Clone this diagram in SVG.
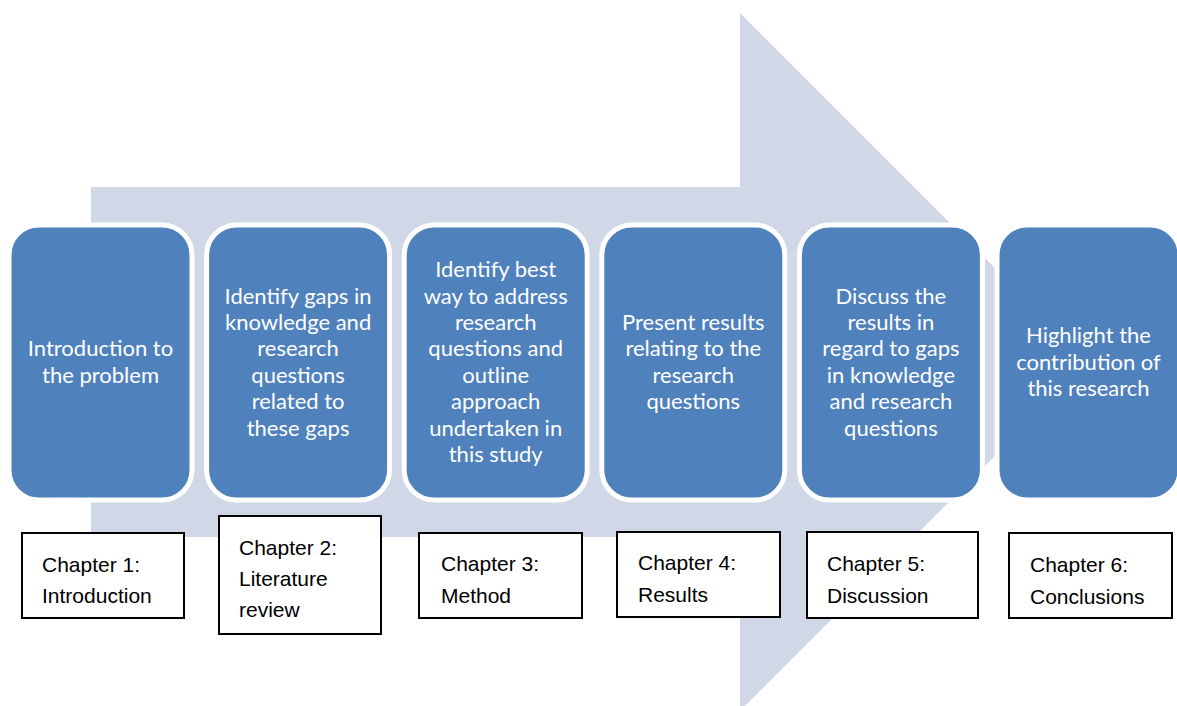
<svg xmlns="http://www.w3.org/2000/svg" width="1177" height="706" viewBox="0 0 1177 706">
<style>
.step{fill:#4F81BD;stroke:#FFFFFF;stroke-width:5}
.st{font-family:Lato,"Open Sans","Liberation Sans",sans-serif;font-size:22px;fill:#FFFFFF;text-anchor:middle}
.ch{fill:#FFFFFF;stroke:#000000;stroke-width:2}
.ct{font-family:"Liberation Sans",Arial,sans-serif;font-size:21px;fill:#000000}
</style>
<rect x="0" y="0" width="1177" height="706" fill="#FFFFFF"/>
<g id="arrow">
<polygon points="91,187 740,187 740,13 1089,362 740,711 740,537 91,537" fill="#D0D8E8"/>
</g>
<g id="connectors"></g>
<g id="step1">
<rect class="step" x="9" y="225" width="183" height="275" rx="30" ry="30"/>
<text class="st" x="100.5"><tspan x="100.5" y="356.3">Introduction to</tspan><tspan x="100.5" y="382.7">the problem</tspan></text>
</g>
<g id="step2">
<rect class="step" x="206.6" y="225" width="183" height="275" rx="30" ry="30"/>
<text class="st"><tspan x="298.1" y="303.5">Identify gaps in</tspan><tspan x="298.1" y="329.9">knowledge and</tspan><tspan x="298.1" y="356.3">research</tspan><tspan x="298.1" y="382.7">questions</tspan><tspan x="298.1" y="409.1">related to</tspan><tspan x="298.1" y="435.5">these gaps</tspan></text>
</g>
<g id="step3">
<rect class="step" x="404.2" y="225" width="183" height="275" rx="30" ry="30"/>
<text class="st"><tspan x="495.7" y="277.1">Identify best</tspan><tspan x="495.7" y="303.5">way to address</tspan><tspan x="495.7" y="329.9">research</tspan><tspan x="495.7" y="356.3">questions and</tspan><tspan x="495.7" y="382.7">outline</tspan><tspan x="495.7" y="409.1">approach</tspan><tspan x="495.7" y="435.5">undertaken in</tspan><tspan x="495.7" y="461.9">this study</tspan></text>
</g>
<g id="step4">
<rect class="step" x="601.8" y="225" width="183" height="275" rx="30" ry="30"/>
<text class="st"><tspan x="693.3" y="329.9">Present results</tspan><tspan x="693.3" y="356.3">relating to the</tspan><tspan x="693.3" y="382.7">research</tspan><tspan x="693.3" y="409.1">questions</tspan></text>
</g>
<g id="step5">
<rect class="step" x="799.4" y="225" width="183" height="275" rx="30" ry="30"/>
<text class="st"><tspan x="890.9" y="303.5">Discuss the</tspan><tspan x="890.9" y="329.9">results in</tspan><tspan x="890.9" y="356.3">regard to gaps</tspan><tspan x="890.9" y="382.7">in knowledge</tspan><tspan x="890.9" y="409.1">and research</tspan><tspan x="890.9" y="435.5">questions</tspan></text>
</g>
<g id="step6">
<rect class="step" x="997" y="225" width="183" height="275" rx="30" ry="30"/>
<text class="st"><tspan x="1088.5" y="343.1">Highlight the</tspan><tspan x="1088.5" y="369.5">contribution of</tspan><tspan x="1088.5" y="395.9">this research</tspan></text>
</g>
<g id="chapter1">
<rect class="ch" x="22" y="533" width="162" height="85"/>
<text class="ct"><tspan x="42" y="572">Chapter 1:</tspan><tspan x="42" y="603">Introduction</tspan></text>
</g>
<g id="chapter2">
<rect class="ch" x="219" y="516" width="162" height="118"/>
<text class="ct"><tspan x="239" y="555">Chapter 2:</tspan><tspan x="239" y="586">Literature</tspan><tspan x="239" y="617">review</tspan></text>
</g>
<g id="chapter3">
<rect class="ch" x="419" y="533" width="163" height="85"/>
<text class="ct"><tspan x="441" y="571">Chapter 3:</tspan><tspan x="441" y="603">Method</tspan></text>
</g>
<g id="chapter4">
<rect class="ch" x="617" y="532" width="163" height="85"/>
<text class="ct"><tspan x="638" y="570">Chapter 4:</tspan><tspan x="638" y="602">Results</tspan></text>
</g>
<g id="chapter5">
<rect class="ch" x="807" y="532" width="171" height="86"/>
<text class="ct"><tspan x="827" y="571">Chapter 5:</tspan><tspan x="827" y="603">Discussion</tspan></text>
</g>
<g id="chapter6">
<rect class="ch" x="1009" y="533" width="163" height="85"/>
<text class="ct"><tspan x="1030" y="572">Chapter 6:</tspan><tspan x="1030" y="604">Conclusions</tspan></text>
</g>
</svg>
